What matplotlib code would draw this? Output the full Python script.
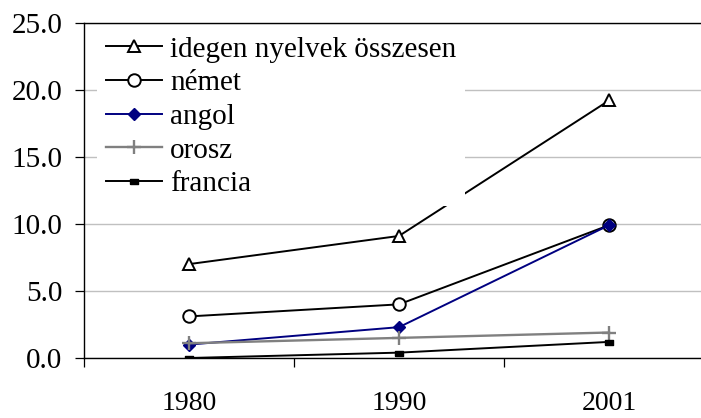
import matplotlib
matplotlib.use("Agg")
import matplotlib.pyplot as plt
import numpy as np

years = ["1980", "1990", "2001"]
labels = ["idegen nyelvek összesen", "német", "angol", "orosz", "francia"]
idegen = [7.0, 9.1, 19.2]
nemet = [3.1, 4.0, 9.9]
angol = [1.0, 2.3, 9.9]
orosz = [1.1, 1.5, 1.9]
francia = [0.0, 0.4, 1.2]
yticks = [0, 5, 10, 15, 20, 25]

plt.rcParams['font.family'] = ['Liberation Serif', 'DejaVu Serif']

fig = plt.figure(figsize=(7.01, 4.18), dpi=100)
ax = fig.add_axes([84/701, (418-358)/418, 630/701, (358-22.7)/418])

x = np.arange(len(years))
rect = [(-1, -0.6), (1, -0.6), (1, 0.6), (-1, 0.6), (-1, -0.6)]

ax.plot(x, idegen, color='black', lw=1.4, marker='^', ms=9, mfc='white', mec='black', mew=1.4, label=labels[0], zorder=3)
ax.plot(x, nemet, color='black', lw=1.4, marker='o', ms=9, mfc='white', mec='black', mew=1.4, label=labels[1], zorder=3)
ax.plot(x, angol, color='#000080', lw=1.4, marker='D', ms=6.5, mfc='#000080', mec='#000080', label=labels[2], zorder=3)
ax.plot(x, orosz, color='#808080', lw=1.7, marker='+', ms=10, mec='#808080', mew=1.7, label=labels[3], zorder=3)
ax.plot(x, francia, color='black', lw=1.4, marker=rect, ms=6, mfc='black', mec='black', label=labels[4], zorder=3)

ax.set_xlim(-0.5, 2.5)
ax.set_ylim(0, 25)
ax.set_yticks(yticks)
ax.set_yticklabels([f"{v:.1f}" for v in yticks])
ax.set_xticks(x)
ax.set_xticklabels(years)
ax.set_xticks([-0.5, 0.5, 1.5, 2.5], minor=True)
ax.tick_params(axis='x', which='major', length=0, pad=24, labelsize=20)
ax.tick_params(axis='x', which='minor', length=6.5, width=0.9, direction='out', color='black')
ax.tick_params(axis='y', which='major', length=6.5, width=0.9, direction='out', pad=9, labelsize=21, color='black')

ax.yaxis.grid(True, color='#c0c0c0', lw=1.0)
ax.set_axisbelow(True)
for s in ['left', 'bottom', 'top']:
    ax.spines[s].set_color('black')
    ax.spines[s].set_linewidth(1.0)
ax.spines['right'].set_visible(False)

leg = ax.legend(loc='upper left', bbox_to_anchor=(13/630, 0.986), fontsize=21,
                frameon=True, fancybox=False, edgecolor='none', facecolor='white',
                framealpha=1.0, handlelength=1.92, handletextpad=0.28,
                labelspacing=0.25, borderpad=0.3, borderaxespad=0)
leg.set_zorder(5)

fig.savefig('out.png', dpi=100)
